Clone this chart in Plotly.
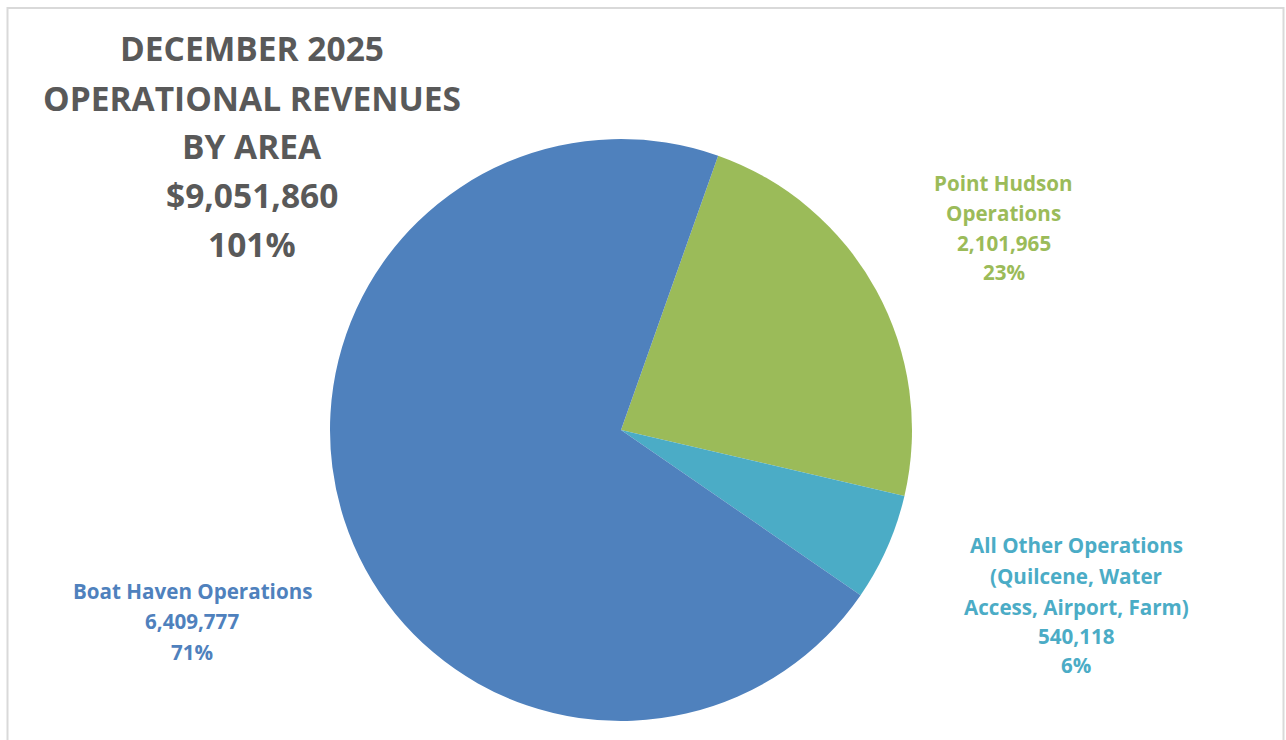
import plotly.graph_objects as go

# Data
categories = ["Point Hudson Operations", "All Other Operations", "Boat Haven Operations"]
values = [2101965, 540118, 6409777]
colors = ["#9BBB59", "#4BACC6", "#4F81BD"]
label_lines = [
    ["Point Hudson", "Operations", "2,101,965", "23%"],
    ["All Other Operations", "(Quilcene, Water", "Access, Airport, Farm)", "540,118", "6%"],
    ["Boat Haven Operations", "6,409,777", "71%"],
]
title_lines = ["DECEMBER 2025", "OPERATIONAL REVENUES", "BY AREA", "$9,051,860", "101%"]

W, H = 1286, 740
FONT = "Open Sans"

fig = go.Figure()
cx, cy, r = 621, 430, 291
fig.add_trace(go.Pie(
    labels=categories, values=values, sort=False, direction="clockwise",
    rotation=19.5, marker=dict(colors=colors, line=dict(color="white", width=0)),
    textinfo="none", hoverinfo="label+value+percent", showlegend=False,
    domain=dict(x=[(cx - r) / W, (cx + r) / W], y=[(H - cy - r) / H, (H - cy + r) / H]),
))

ann = []
def add_lines(lines, x, ys, color, size):
    for t, y in zip(lines, ys):
        ann.append(dict(text="<b>%s</b>" % t, x=x / W, y=1 - y / H, xref="paper", yref="paper",
                        showarrow=False, xanchor="center", yanchor="middle",
                        font=dict(family=FONT, size=size, color=color)))

add_lines(title_lines, 252, [48, 98, 146, 195, 244], "#595959", 33.5)
add_lines(label_lines[0], 1004, [183, 213, 243, 272], colors[0], 20.6)
add_lines(label_lines[1], 1076, [545, 576, 607, 636, 665], colors[1], 20.6)
add_lines(label_lines[2], 192, [591, 621, 652], colors[2], 20.6)

fig.update_layout(
    width=W, height=H, margin=dict(l=0, r=0, t=0, b=0),
    paper_bgcolor="white", plot_bgcolor="white",
    annotations=ann,
    shapes=[dict(type="rect", xref="paper", yref="paper",
                 x0=7.5 / W, x1=1283.5 / W, y0=-0.01, y1=1 - 8 / H,
                 line=dict(color="#D9D9D9", width=2))],
)
fig.write_html("out.html")
